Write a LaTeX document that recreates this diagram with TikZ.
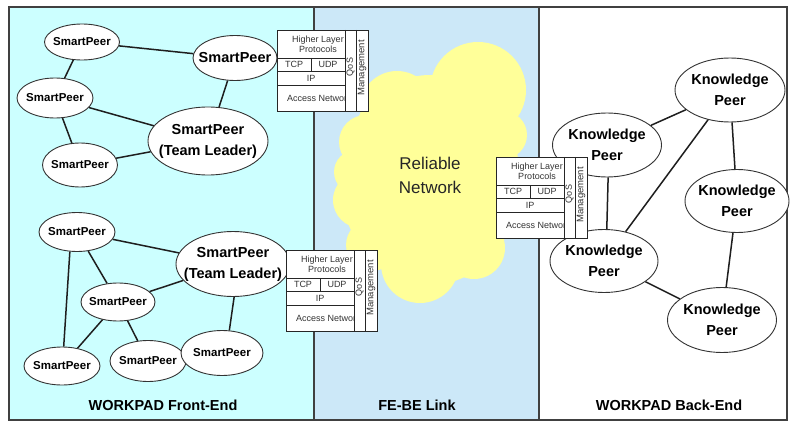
\documentclass[tikz,border=0pt]{standalone}
\usepackage{fontspec}
\setmainfont{Liberation Sans}
\usetikzlibrary{shapes.geometric}
\definecolor{fecol}{RGB}{204,255,255}
\definecolor{linkcol}{RGB}{204,232,248}
\definecolor{cloudcol}{RGB}{255,255,153}
\definecolor{edgecol}{RGB}{30,30,30}
\tikzset{
  peer/.style={ellipse, draw=black!80, line width=0.9pt, fill=white, inner sep=0pt},
  smalltxt/.style={font=\bfseries\fontsize{11.5}{13}\selectfont, inner sep=0pt},
  bigtxt/.style={font=\bfseries\fontsize{14.5}{21}\selectfont, align=center, inner sep=0pt},
  conn/.style={draw=edgecol, line width=1.5pt},
  panel/.style={draw=black!75, line width=1.2pt},
  stackline/.style={draw=black!85, line width=0.9pt},
  stacktxt/.style={font=\fontsize{9}{10}\selectfont, text=black!80, inner sep=0pt},
  lbl/.style={font=\bfseries\fontsize{14.5}{16}\selectfont, inner sep=0pt},
  pics/protostack/.style={code={
    \fill[white] (0,0) rectangle (91,81);
    \begin{scope}
      \clip (0,0) rectangle (68,81);
      \node[stacktxt, align=center] (hl) at (41,14) {Higher Layer\\Protocols};
      \node[stacktxt, anchor=west] (an) at (10,68) {Access Network};
    \end{scope}
    \node[stacktxt] (tcp) at (17,34.5) {TCP};
    \node[stacktxt] (udp) at (51,34.5) {UDP};
    \node[stacktxt] (ip) at (34,48) {IP};
    \node[stacktxt, rotate=90] (qos) at (73.5,37) {QoS};
    \node[stacktxt, font=\fontsize{9.5}{10}\selectfont, rotate=90] (mg) at (85,38) {Management};
    \draw[stackline] (0,0) rectangle (91,81);
    \draw[stackline] (68,0) -- (68,81) (79,0) -- (79,81);
    \draw[stackline] (0,28) -- (68,28) (0,41) -- (68,41) (0,55) -- (68,55) (34,28) -- (34,41);
  }}
}
\begin{document}
\begin{tikzpicture}[x=1pt,y=-1pt]
\useasboundingbox (0,0) rectangle (790,425);
\fill[white] (0,0) rectangle (790,425);
% panels
\draw[panel, fill=fecol] (9,7) rectangle (314,420);
\draw[panel, fill=linkcol] (314,7) rectangle (539,420);
\draw[panel, fill=white] (539,7) rectangle (787,420);
% cloud
\fill[cloudcol] (430,180) ellipse[x radius=90, y radius=105];
\fill[cloudcol] (478,90) circle[radius=48];
\fill[cloudcol] (503,135) circle[radius=24];
\fill[cloudcol] (397,108) circle[radius=37];
\fill[cloudcol] (366,142) circle[radius=27];
\fill[cloudcol] (356,172) circle[radius=22];
\fill[cloudcol] (361,200) circle[radius=28];
\fill[cloudcol] (372,245) circle[radius=26];
\fill[cloudcol] (420,264) circle[radius=39];
\fill[cloudcol] (474,248) circle[radius=31];
\fill[cloudcol] (498,212) circle[radius=27];
\fill[cloudcol] (510,175) circle[radius=18];
\node[font=\fontsize{17}{24}\selectfont, text=black!85, align=center, inner sep=0pt] (rn) at (430,175) {Reliable\\Network};
% front-end peers
\node[peer, minimum width=75pt, minimum height=36pt, label={[smalltxt]center:SmartPeer}] (A) at (82,42) {};
\node[peer, minimum width=84pt, minimum height=45pt, label={[bigtxt]center:SmartPeer}] (B) at (235,58) {};
\node[peer, minimum width=76pt, minimum height=40pt, label={[smalltxt]center:SmartPeer}] (C) at (55,98) {};
\node[peer, minimum width=75pt, minimum height=44pt, label={[smalltxt]center:SmartPeer}] (D) at (80,165) {};
\node[peer, minimum width=120pt, minimum height=68pt, label={[bigtxt]center:SmartPeer\\(Team Leader)}] (TL1) at (208,141) {};
\node[peer, minimum width=76pt, minimum height=39pt, label={[smalltxt]center:SmartPeer}] (E) at (77,232) {};
\node[peer, minimum width=114pt, minimum height=65pt, label={[bigtxt]center:SmartPeer\\(Team Leader)}] (TL2) at (233,264) {};
\node[peer, minimum width=74pt, minimum height=38pt, label={[smalltxt]center:SmartPeer}] (F) at (118,302) {};
\node[peer, minimum width=76pt, minimum height=38pt, label={[smalltxt]center:SmartPeer}] (G) at (62,366) {};
\node[peer, minimum width=76pt, minimum height=41pt, label={[smalltxt]center:SmartPeer}] (H) at (148,361) {};
\node[peer, minimum width=82pt, minimum height=45pt, label={[smalltxt]center:SmartPeer}] (I) at (222,353) {};
% back-end peers
\node[peer, minimum width=110pt, minimum height=64pt, label={[bigtxt]center:Knowledge\\Peer}] (K1) at (730,90) {};
\node[peer, minimum width=109pt, minimum height=64pt, label={[bigtxt]center:Knowledge\\Peer}] (K2) at (607,145) {};
\node[peer, minimum width=104pt, minimum height=63pt, label={[bigtxt]center:Knowledge\\Peer}] (K3) at (737,201) {};
\node[peer, minimum width=108pt, minimum height=63pt, label={[bigtxt]center:Knowledge\\Peer}] (K4) at (604,261) {};
\node[peer, minimum width=109pt, minimum height=65pt, label={[bigtxt]center:Knowledge\\Peer}] (K5) at (722,320) {};
% connectors
\draw[conn] (A) -- (B);
\draw[conn] (A) -- (C);
\draw[conn] (C) -- (TL1);
\draw[conn] (C) -- (D);
\draw[conn] (D) -- (TL1);
\draw[conn] (B) -- (TL1);
\draw[conn] (E) -- (TL2);
\draw[conn] (E) -- (F);
\draw[conn] (E.250) -- (G.85);
\draw[conn] (F) -- (TL2);
\draw[conn] (F) -- (G);
\draw[conn] (F) -- (H);
\draw[conn] (TL2.272) -- (I.72);
\draw[conn] (K2) -- (K1);
\draw[conn] (K2.272) -- (K4.85);
\draw[conn] (K4) -- (K1);
\draw[conn] (K1) -- (K3);
\draw[conn] (K3) -- (K5);
\draw[conn] (K4) -- (K5);
% protocol stacks
\pic (s1) at (277,30) {protostack};
\pic (s2) at (286,250) {protostack};
\pic (s3) at (496,157) {protostack};
% labels
\node[lbl] (fe) at (163,405) {WORKPAD Front-End};
\node[lbl] (lk) at (417,405) {FE-BE Link};
\node[lbl] (be) at (669,405) {WORKPAD Back-End};
\end{tikzpicture}
\end{document}
